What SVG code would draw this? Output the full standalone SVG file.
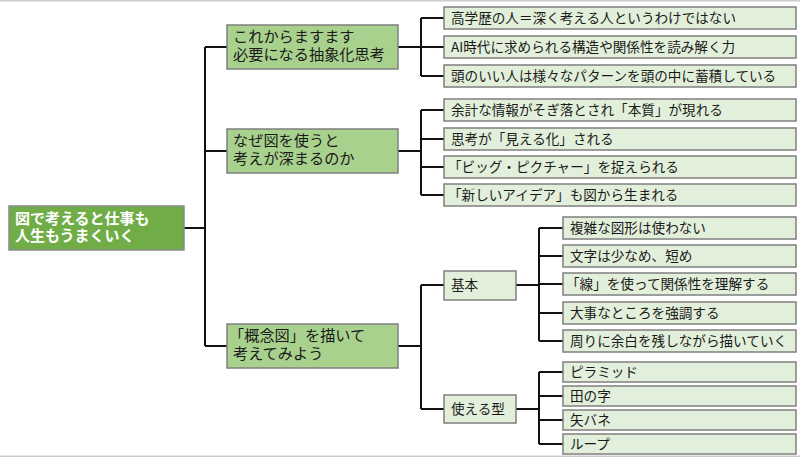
<svg xmlns="http://www.w3.org/2000/svg" width="800" height="458" viewBox="0 0 800 458">
<style>
text{font-family:"Noto Sans CJK JP","Noto Sans CJK SC",sans-serif;fill:#1a1a1a}
.root rect{fill:#70ad47;stroke:#8a8a8a;stroke-width:1.5}
.root text{fill:#ffffff;font-weight:bold;font-size:15px}
.l1 rect{fill:#a9d18e;stroke:#7f7f7f;stroke-width:1.5}
.l1 text{font-size:15.2px}
.l2 rect{fill:#e2efda;stroke:#7f7f7f;stroke-width:1.5}
.l2 text{font-size:13.6px}
#connectors{fill:none;stroke:#111;stroke-width:2}
</style>
<rect x="0" y="0" width="800" height="458" fill="#ffffff"/>
<rect x="0" y="0" width="800" height="1.5" fill="#cccccc"/>
<rect x="0" y="455.5" width="800" height="1.5" fill="#cccccc"/>
<g id="connectors">
<path d="M184 228H205M205 47V346M205 47H227M205 151H227M205 346H227"/>
<path d="M398 47H421M421 18V76M421 18H444M421 47H444M421 76H444"/>
<path d="M398 151H421M421 110V195M421 110H444M421 139H444M421 167H444M421 195H444"/>
<path d="M398 346H421M421 285V409M421 285H444M421 409H444"/>
<path d="M516 285H539M539 228V341M539 228H563M539 256H563M539 284H563M539 313H563M539 341H563"/>
<path d="M516 409H539M539 372V444M539 372H563M539 396H563M539 420H563M539 444H563"/>
</g>
<g id="root" class="root">
<rect x="9" y="206" width="175" height="44"/>
<text x="15" y="224">図で考えると仕事も<tspan x="15" y="241">人生もうまくいく</tspan></text>
</g>
<g id="n1" class="l1">
<rect x="227" y="25" width="171" height="44"/>
<text x="233" y="42">これからますます<tspan x="233" y="60">必要になる抽象化思考</tspan></text>
</g>
<g id="n2" class="l1">
<rect x="227" y="129" width="171" height="44"/>
<text x="233" y="146">なぜ図を使うと<tspan x="233" y="164">考えが深まるのか</tspan></text>
</g>
<g id="n3" class="l1">
<rect x="227" y="324" width="171" height="44"/>
<text x="229" y="341">「概念図」を描いて<tspan x="233" y="359">考えてみよう</tspan></text>
</g>
<g id="n1a" class="l2"><rect x="444" y="7" width="352" height="22"/><text x="451" y="23">高学歴の人＝深く考える人というわけではない</text></g>
<g id="n1b" class="l2"><rect x="444" y="36" width="352" height="22"/><text x="451" y="52">AI時代に求められる構造や関係性を読み解く力</text></g>
<g id="n1c" class="l2"><rect x="444" y="65" width="352" height="22"/><text x="451" y="81">頭のいい人は様々なパターンを頭の中に蓄積している</text></g>
<g id="n2a" class="l2"><rect x="444" y="99" width="352" height="22"/><text x="451" y="115">余計な情報がそぎ落とされ「本質」が現れる</text></g>
<g id="n2b" class="l2"><rect x="444" y="128" width="352" height="22"/><text x="451" y="144">思考が「見える化」される</text></g>
<g id="n2c" class="l2"><rect x="444" y="156" width="352" height="22"/><text x="448" y="172">「ビッグ・ピクチャー」を捉えられる</text></g>
<g id="n2d" class="l2"><rect x="444" y="184" width="352" height="22"/><text x="448" y="200">「新しいアイデア」も図から生まれる</text></g>
<g id="n3a" class="l2"><rect x="444" y="271" width="72" height="29"/><text x="451" y="290">基本</text></g>
<g id="n3b" class="l2"><rect x="444" y="395" width="72" height="28"/><text x="451" y="414">使える型</text></g>
<g id="k1" class="l2"><rect x="563" y="217" width="233" height="22"/><text x="570" y="233">複雑な図形は使わない</text></g>
<g id="k2" class="l2"><rect x="563" y="245" width="233" height="22"/><text x="570" y="261">文字は少なめ、短め</text></g>
<g id="k3" class="l2"><rect x="563" y="273" width="233" height="22"/><text x="566" y="289">「線」を使って関係性を理解する</text></g>
<g id="k4" class="l2"><rect x="563" y="302" width="233" height="22"/><text x="570" y="318">大事なところを強調する</text></g>
<g id="k5" class="l2"><rect x="563" y="330" width="233" height="22"/><text x="570" y="346">周りに余白を残しながら描いていく</text></g>
<g id="t1" class="l2"><rect x="563" y="362" width="233" height="20"/><text x="570" y="377">ピラミッド</text></g>
<g id="t2" class="l2"><rect x="563" y="386" width="233" height="20"/><text x="570" y="401">田の字</text></g>
<g id="t3" class="l2"><rect x="563" y="410" width="233" height="20"/><text x="570" y="425">矢バネ</text></g>
<g id="t4" class="l2"><rect x="563" y="434" width="233" height="20"/><text x="570" y="449">ループ</text></g>
</svg>
